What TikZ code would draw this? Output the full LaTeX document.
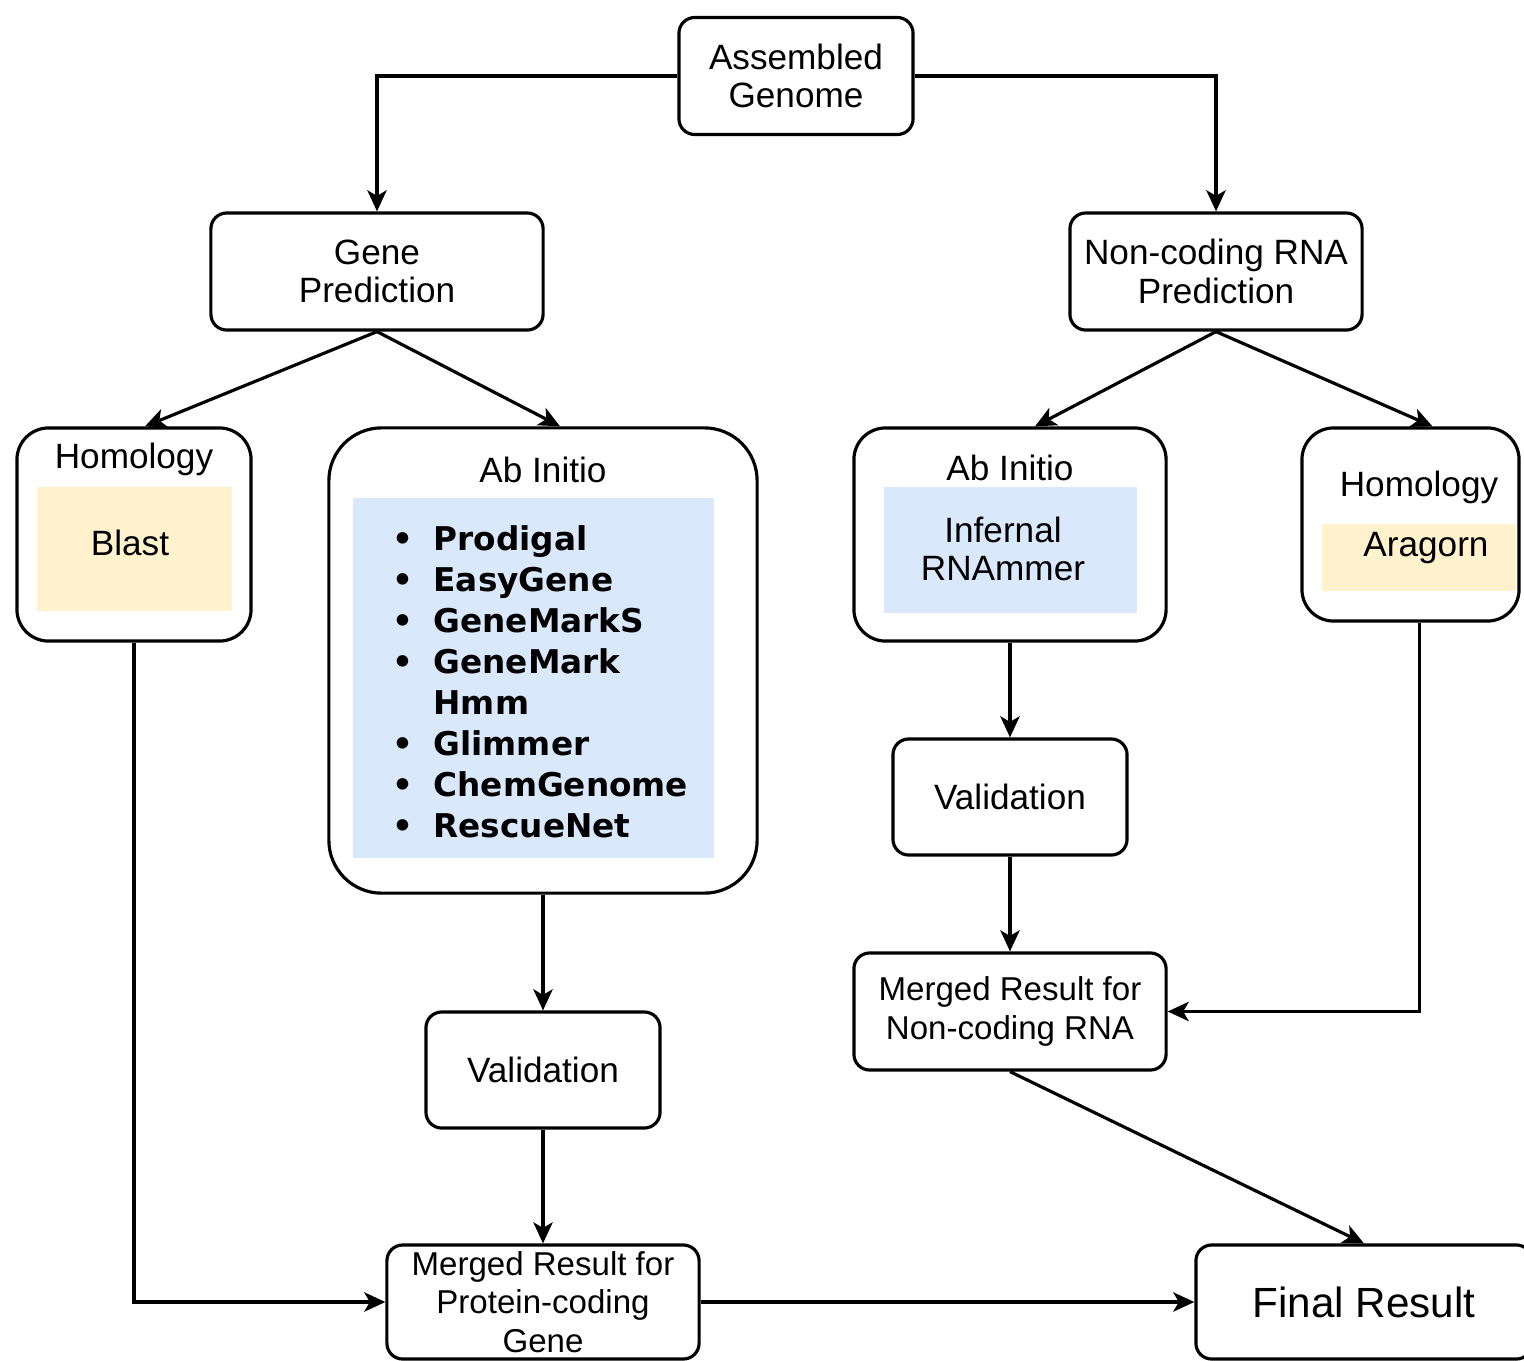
\documentclass[tikz,border=0pt]{standalone}
\usepackage{fontspec}
\setmainfont{Liberation Sans}
\newfontfamily\toolfont{DejaVu Sans}
\usetikzlibrary{arrows.meta}
\definecolor{yellowfill}{HTML}{FFF2CC}
\definecolor{bluefill}{HTML}{DAE8FC}

\begin{document}
\begin{tikzpicture}[x=0.01cm, y=-0.01cm, line width=0.9pt,
	every node/.style={font=\fontsize{10}{11}\selectfont, align=center},
	box/.style={draw, rounded corners=4.5pt},
	tool/.style={font=\toolfont\bfseries\fontsize{9.3}{11}\selectfont, inner sep=0pt},
	>={Stealth[length=6pt, width=5.5pt, inset=1.6pt]}]
	\useasboundingbox (0,0) rectangle (1524,1360);
	\fill[white] (0,0) rectangle (1524,1360);
	% top levels
	\node[box, minimum width=2.34cm, minimum height=1.17cm] (genome) at (796,76) {Assembled\\Genome};
	\node[box, minimum width=3.32cm, minimum height=1.17cm] (geneP) at (377,271.5) {Gene\\Prediction};
	\node[box, minimum width=2.92cm, minimum height=1.17cm] (ncrnaP) at (1216,271.5) {Non-coding RNA\\Prediction};
	% left homology
	\node[box, rounded corners=9pt, minimum width=2.34cm, minimum height=2.13cm] (homL) at (134,534.5) {};
	\node[fill=yellowfill, minimum width=1.95cm, minimum height=1.24cm] (blastbg) at (134.5,549) {};
	\node[anchor=base] (homLtitle) at (134,468) {Homology};
	\node[anchor=base] (blast) at (130,555) {Blast};
	% left ab initio
	\node[box, rounded corners=15pt, minimum width=4.28cm, minimum height=4.65cm] (abL) at (543,660.5) {};
	\node[fill=bluefill, minimum width=3.61cm, minimum height=3.6cm] (abLbg) at (533.5,678) {};
	\node[anchor=base] (abLtitle) at (543,482) {Ab Initio};
	\foreach \i/\tool in {0/Prodigal, 1/EasyGene, 2/GeneMarkS, 3/GeneMark, 5/Glimmer, 6/ChemGenome, 7/RescueNet} {
		\node[tool, anchor=base] (dot\i) at (403,{550+41*\i}) {•};
		\node[tool, anchor=base west] (tool\i) at (432,{550+41*\i}) {\tool};
	}
	\node[tool, anchor=base west] (tool4) at (432,714) {Hmm};
	% right ab initio
	\node[box, rounded corners=9pt, minimum width=3.12cm, minimum height=2.13cm] (abR) at (1010,534.5) {};
	\node[fill=bluefill, minimum width=2.53cm, minimum height=1.26cm] (abRbg) at (1010.5,550) {};
	\node[anchor=base] (abRtitle) at (1010,480) {Ab Initio};
	\node (rnatools) at (1003,549) {Infernal\\RNAmmer};
	% right homology
	\node[box, rounded corners=9pt, minimum width=2.17cm, minimum height=1.93cm] (homR) at (1410.5,524.5) {};
	\node[fill=yellowfill, minimum width=1.94cm, minimum height=0.67cm] (aragornbg) at (1419,557.5) {};
	\node[anchor=base] (homRtitle) at (1419,496) {Homology};
	\node[anchor=base] (aragorn) at (1426,556) {Aragorn};
	% validation and merging
	\node[box, minimum width=2.34cm, minimum height=1.16cm] (valL) at (543,1070) {Validation};
	\node[box, minimum width=2.34cm, minimum height=1.16cm] (valR) at (1010,797) {Validation};
	\node[box, minimum width=3.12cm, minimum height=1.17cm, font=\fontsize{9.4}{11}\selectfont] (mergeR) at (1010,1011.5) {Merged Result for\\Non-coding RNA};
	\node[box, inner ysep=0.5pt, minimum width=3.12cm, minimum height=1.14cm, font=\fontsize{9.4}{11}\selectfont] (mergeP) at (543,1302) {Merged Result for\\Protein-coding\\Gene};
	\node[box, minimum width=3.36cm, minimum height=1.14cm, font=\fontsize{12}{14}\selectfont] (final) at (1364,1302) {Final Result};
	% connectors
	\draw[->] (genome.west) -| (geneP.north);
	\draw[->] (genome.east) -| (ncrnaP.north);
	\draw[->] (geneP.south) -- ([xshift=0.11cm]homL.north);
	\draw[->] (geneP.south) -- ([xshift=0.17cm]abL.north);
	\draw[->] (ncrnaP.south) -- ([xshift=0.25cm]abR.north);
	\draw[->] (ncrnaP.south) -- ([xshift=0.22cm]homR.north);
	\draw[->] (homL.south) |- (mergeP.west);
	\draw[->] (abL.south) -- (valL.north);
	\draw[->] (valL.south) -- (mergeP.north);
	\draw[->] (abR.south) -- (valR.north);
	\draw[->] (valR.south) -- (mergeR.north);
	\draw[->] ([xshift=0.09cm]homR.south) |- (mergeR.east);
	\draw[->] (mergeR.south) -- (final.north);
	\draw[->] (mergeP.east) -- (final.west);
\end{tikzpicture}
\end{document}
